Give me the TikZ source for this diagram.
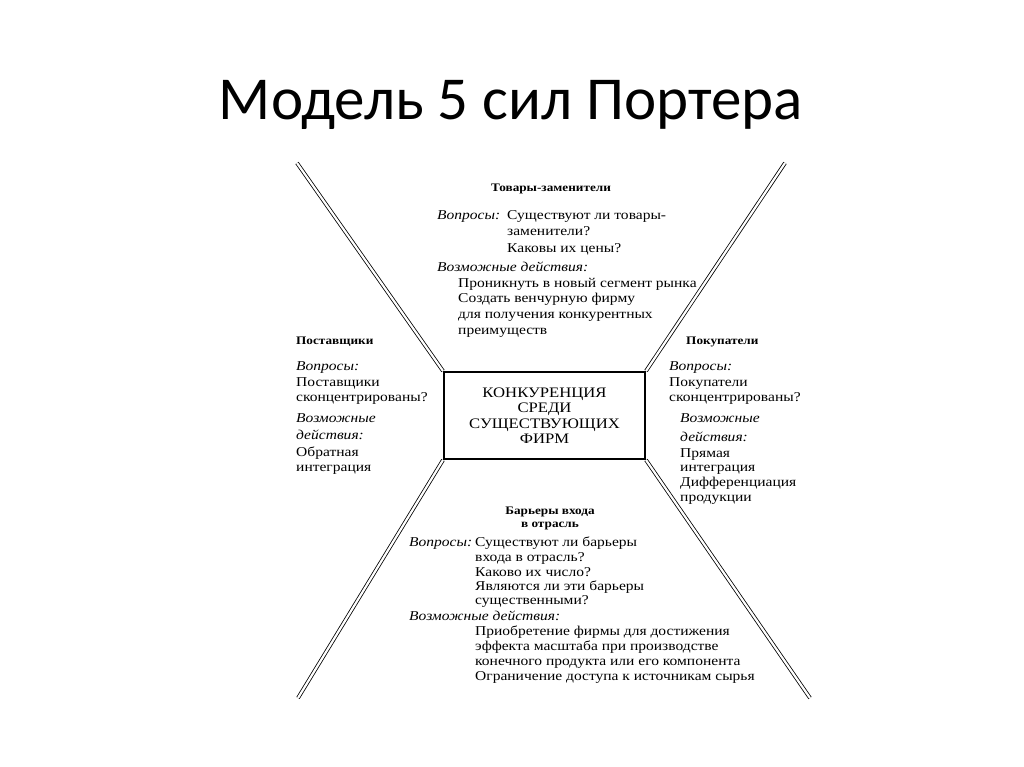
\documentclass[tikz,border=0pt]{standalone}
\usepackage{fontspec}
\setmainfont{Liberation Serif}[FakeStretch=1.15]
\newfontfamily\titlefont{Carlito}
\begin{document}
\begin{tikzpicture}[x=1pt,y=-1pt,
  txt/.style={anchor=base west,inner sep=0pt,font=\fontsize{13.5}{15}\selectfont},
  it/.style={txt,font=\fontsize{13.5}{15}\selectfont\itshape},
  hd/.style={anchor=base,inner sep=0pt,font=\fontsize{11.5}{13}\selectfont\bfseries},
  hdw/.style={anchor=base west,inner sep=0pt,font=\fontsize{11.5}{13}\selectfont\bfseries},
  dl/.style={double,double distance=2.2pt,line width=0.8pt}]
\useasboundingbox (0,0) rectangle (1024,767);
\node[anchor=base,inner sep=0pt,font=\fontsize{61}{66}\titlefont] (title) at (511,120) {Модель 5 сил Портера};
\node[draw,line width=2pt,minimum width=201pt,minimum height=87pt,inner sep=0pt,
  align=center,font=\fontsize{14.5}{15.5}\selectfont] (box) at (544.5,415.5)
  {КОНКУРЕНЦИЯ\\СРЕДИ\\СУЩЕСТВУЮЩИХ\\ФИРМ};
\coordinate (ul) at (297,163); \coordinate (ur) at (785,163);
\coordinate (ll) at (298,698); \coordinate (lr) at (810,698);
\draw[dl] (ul) -- (box.north west);
\draw[dl] (ur) -- (box.north east);
\draw[dl] (ll) -- (box.south west);
\draw[dl] (lr) -- (box.south east);
% top
\node[hd] (t0) at (551,192) {Товары-заменители};
\node[it] (t1) at (437,220) {Вопросы:};
\node[txt] (t2) at (507,220) {Существуют ли товары-};
\node[txt] (t3) at (507,236) {заменители?};
\node[txt] (t4) at (507,252) {Каковы их цены?};
\node[it] (t5) at (437,271) {Возможные действия:};
\node[txt] (t6) at (458,287) {Проникнуть в новый сегмент рынка};
\node[txt] (t7) at (458,302) {Создать венчурную фирму};
\node[txt] (t8) at (458,318) {для получения конкурентных};
\node[txt] (t9) at (458,334) {преимуществ};
% left
\node[hdw] (l0) at (296,344) {Поставщики};
\node[it] (l1) at (296,370) {Вопросы:};
\node[txt] (l2) at (296,386) {Поставщики};
\node[txt] (l3) at (296,401) {сконцентрированы?};
\node[it] (l4) at (296,422) {Возможные};
\node[it] (l5) at (296,439) {действия:};
\node[txt] (l6) at (296,456) {Обратная};
\node[txt] (l7) at (296,471) {интеграция};
% right
\node[hdw] (r0) at (686,344) {Покупатели};
\node[it] (r1) at (669,370) {Вопросы:};
\node[txt] (r2) at (669,386) {Покупатели};
\node[txt] (r3) at (669,401) {сконцентрированы?};
\node[it] (r4) at (680,422) {Возможные};
\node[it] (r5) at (680,441) {действия:};
\node[txt] (r6) at (680,457) {Прямая};
\node[txt] (r7) at (680,471) {интеграция};
\node[txt] (r8) at (680,486) {Дифференциация};
\node[txt] (r9) at (680,501) {продукции};
% bottom
\node[hd] (b0) at (550,514) {Барьеры входа};
\node[hd] (b1) at (550,527) {в отрасль};
\node[it] (b2) at (409,546) {Вопросы:};
\node[txt] (b3) at (475,546) {Существуют ли барьеры};
\node[txt] (b4) at (475,561) {входа в отрасль?};
\node[txt] (b5) at (475,576) {Каково их число?};
\node[txt] (b6) at (475,590) {Являются ли эти барьеры};
\node[txt] (b7) at (475,604) {существенными?};
\node[it] (b8) at (409,620) {Возможные действия:};
\node[txt] (b9) at (475,635) {Приобретение фирмы для достижения};
\node[txt] (b10) at (475,650) {эффекта масштаба при производстве};
\node[txt] (b11) at (475,665) {конечного продукта или его компонента};
\node[txt] (b12) at (475,680) {Ограничение доступа к источникам сырья};
\end{tikzpicture}
\end{document}
